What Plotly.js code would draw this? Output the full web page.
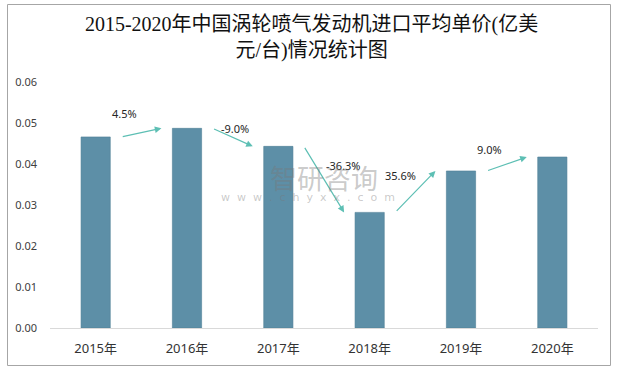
<!DOCTYPE html>
<html>
<head>
<meta charset="utf-8">
<script src="https://cdn.plot.ly/plotly-3.0.1.min.js"></script>
<style>html,body{margin:0;padding:0;background:#fff;}#chart{width:617px;height:369px;}</style>
</head>
<body>
<div id="chart"></div>
<script>
const years = ['2015年', '2016年', '2017年', '2018年', '2019年', '2020年'];
const prices = [0.0466, 0.0487, 0.0443, 0.0282, 0.0383, 0.0417];
const growth = ['4.5%', '-9.0%', '-36.3%', '35.6%', '9.0%'];
const yTicks = [0, 0.01, 0.02, 0.03, 0.04, 0.05, 0.06];

// layout helpers (positions of growth labels, in category index / value units)
const labelPos = [[0.32, 0.0523], [1.53, 0.0487], [2.71, 0.0396], [3.34, 0.0373], [4.31, 0.0436]];
const arrowColor = '#5dbfb4';
const tickFont = {family: '"Noto Sans", "Noto Sans CJK SC", sans-serif', size: 11, color: '#404040'};

const annotations = [];
for (let i = 0; i < growth.length; i++) {
  annotations.push({
    x: i + 0.72, y: prices[i + 1], xref: 'x', yref: 'y',
    ax: i + 0.28, ay: prices[i], axref: 'x', ayref: 'y',
    text: '', showarrow: true, arrowhead: 2, arrowsize: 1.1, arrowwidth: 1.2,
    arrowcolor: arrowColor, standoff: 0, startstandoff: 0
  });
  annotations.push({
    x: labelPos[i][0], y: labelPos[i][1], xref: 'x', yref: 'y',
    text: growth[i], showarrow: false,
    font: {family: '"Noto Sans", "Noto Sans CJK SC", sans-serif', size: 11, color: '#262626'}
  });
}
// watermark
annotations.push({
  x: 0.5, y: 0.613, xref: 'paper', yref: 'paper', text: '智研咨询', showarrow: false,
  font: {family: '"Noto Sans CJK SC", sans-serif', size: 27, color: 'rgba(120,120,120,0.4)'}
});
annotations.push({
  x: 0.47, y: 0.532, xref: 'paper', yref: 'paper',
  text: 'w\u00a0\u00a0w\u00a0\u00a0w\u00a0\u00a0.\u00a0\u00a0c\u00a0\u00a0h\u00a0\u00a0y\u00a0\u00a0x\u00a0\u00a0x\u00a0\u00a0.\u00a0\u00a0c\u00a0\u00a0o\u00a0\u00a0m',
  showarrow: false,
  font: {family: '"DejaVu Sans", sans-serif', size: 11, color: 'rgba(120,120,120,0.4)'}
});

const data = [{
  type: 'bar',
  x: years,
  y: prices,
  marker: {color: '#5d8fa7', line: {color: '#4f7f96', width: 0.6}},
  hoverinfo: 'none'
}];

const layout = {
  width: 617, height: 369,
  margin: {l: 50, r: 19, t: 82, b: 41, pad: 0},
  paper_bgcolor: '#fff', plot_bgcolor: '#fff',
  showlegend: false,
  bargap: 0.68,
  title: {
    text: '2015-2020年中国涡轮喷气发动机进口平均单价(亿美<br>元/台)情况统计图',
    font: {family: '"Liberation Serif", "Noto Sans CJK SC", serif', size: 20, color: '#111'},
    x: 0.505, xanchor: 'center', y: 1 - 31 / 369, yanchor: 'top'
  },
  xaxis: {
    type: 'category',
    showline: true, linecolor: '#d9d9d9', linewidth: 1,
    showgrid: false, zeroline: false, ticks: '',
    tickfont: {family: '"Noto Sans", "Noto Sans CJK SC", sans-serif', size: 13, color: '#333'},
    ticklabelstandoff: 8
  },
  yaxis: {
    range: [0, 0.06],
    tickvals: yTicks,
    tickformat: '.2f',
    showline: false, showgrid: false, zeroline: false, ticks: '',
    tickfont: tickFont,
    ticklabelstandoff: 12
  },
  annotations: annotations,
  shapes: [{
    type: 'rect', xref: 'paper', yref: 'paper',
    x0: (7.5 - 50) / 548, x1: (610.5 - 50) / 548,
    y0: (328 - 365.5) / 246, y1: (328 - 4.5) / 246,
    line: {color: '#a6a6a6', width: 1}, fillcolor: 'rgba(0,0,0,0)', layer: 'above'
  }]
};

Plotly.newPlot('chart', data, layout, {displayModeBar: false, staticPlot: true});
</script>
</body>
</html>
